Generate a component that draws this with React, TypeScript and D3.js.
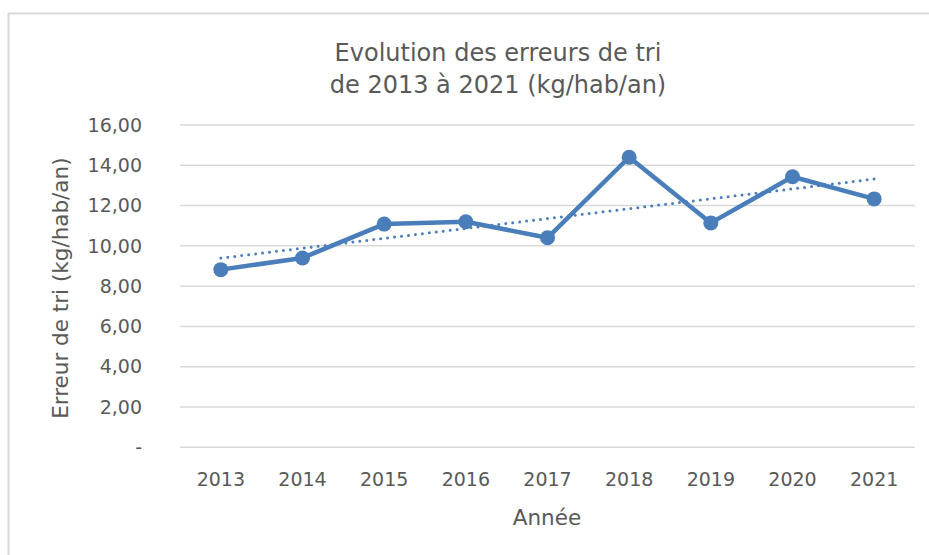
import React from "react";
import * as d3 from "d3";

const years = ["2013", "2014", "2015", "2016", "2017", "2018", "2019", "2020", "2021"];
const values = [8.82, 9.4, 11.08, 11.2, 10.4, 14.4, 11.14, 13.43, 12.33];
const yTicks = [0, 2, 4, 6, 8, 10, 12, 14, 16];
const titleLines = ["Evolution des erreurs de tri", "de 2013 à 2021 (kg/hab/an)"];
const xTitle = "Année";
const yTitle = "Erreur de tri (kg/hab/an)";

const W = 929;
const H = 555;
const left = 180;
const right = 915;
const top = 125;
const bottom = 447.3;
const COLOR = "#4a7ebb";
const TXT = "#595959";
const FONT = "'DejaVu Sans', Verdana, sans-serif";

export default function App() {
  const x = d3.scaleBand<string>().domain(years).range([left, right]);
  const y = d3.scaleLinear().domain([0, 16]).range([bottom, top]);
  const cx = (d: string) => (x(d) as number) + x.bandwidth() / 2;

  const line = d3
    .line<number>()
    .x((_, i) => cx(years[i]))
    .y((v) => y(v));

  // linear trendline (least squares) from the series
  const n = values.length;
  const xs = values.map((_, i) => i);
  const mx = d3.mean(xs) as number;
  const my = d3.mean(values) as number;
  const slope =
    d3.sum(xs.map((xi, i) => (xi - mx) * (values[i] - my))) /
    d3.sum(xs.map((xi) => (xi - mx) ** 2));
  const icpt = my - slope * mx;
  const t0 = icpt;
  const t1 = icpt + slope * (n - 1);

  const fmt = (v: number) => (v === 0 ? "-" : v.toFixed(2).replace(".", ","));

  return (
    <svg
      width={W}
      height={H}
      style={{ position: "absolute", left: 0, top: 0, background: "#fff" }}
      fontFamily={FONT}
    >
      <line x1={8} x2={W} y1={13.5} y2={13.5} stroke="#d9d9d9" strokeWidth={2} />
      <line x1={8.5} x2={8.5} y1={13} y2={H} stroke="#d9d9d9" strokeWidth={2} />

      {titleLines.map((t, i) => (
        <text key={i} x={498} y={61 + i * 32} textAnchor="middle" fontSize={24} fill={TXT}>
          {t}
        </text>
      ))}

      {yTicks.map((t) => (
        <g key={t}>
          <line x1={left} x2={right} y1={y(t)} y2={y(t)} stroke="#d9d9d9" strokeWidth={1.5} />
          <text x={142} y={y(t)} dy="0.35em" textAnchor="end" fontSize={19} fill={TXT}>
            {fmt(t)}
          </text>
        </g>
      ))}

      {years.map((yr) => (
        <text key={yr} x={cx(yr)} y={479} dy="0.35em" textAnchor="middle" fontSize={19} fill={TXT}>
          {yr}
        </text>
      ))}

      <text x={547} y={517} dy="0.35em" textAnchor="middle" fontSize={21.5} fill={TXT}>
        {xTitle}
      </text>
      <text
        transform={`translate(60,${(top + bottom) / 2 + 2}) rotate(-90)`}
        textAnchor="middle"
        dy="0.35em"
        fontSize={21.5}
        fill={TXT}
      >
        {yTitle}
      </text>

      <path d={line(values) as string} fill="none" stroke={COLOR} strokeWidth={4.5} strokeLinejoin="round" />
      {values.map((v, i) => (
        <circle key={i} cx={cx(years[i])} cy={y(v)} r={7.5} fill={COLOR} />
      ))}
      <line
        x1={cx(years[0])}
        y1={y(t0)}
        x2={cx(years[n - 1])}
        y2={y(t1)}
        stroke={COLOR}
        strokeWidth={3}
        strokeDasharray="0 7"
        strokeLinecap="round"
      />
    </svg>
  );
}
